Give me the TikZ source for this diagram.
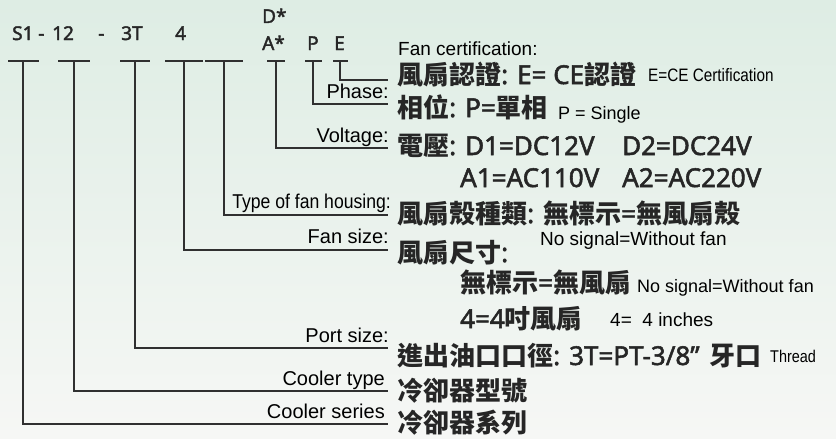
\documentclass[tikz,border=0pt]{standalone}
\usepackage{fontspec}
\setmainfont{Liberation Sans}
\newfontfamily\cjkf{Noto Sans CJK TC}
\newfontfamily\latf{Noto Sans}[FakeBold=2]
\newcommand\ck[1]{{\cjkf\bfseries #1}}
\newcommand\lt[1]{{\latf #1}}
\definecolor{linec}{RGB}{48,48,48}
\definecolor{cntext}{RGB}{38,38,38}
\definecolor{bgtop}{RGB}{222,237,228}
\definecolor{bgbot}{RGB}{246,247,245}
\tikzset{
  conn/.style={draw=linec, line width=2pt},
  lbl/.style={anchor=base east, inner sep=0pt, font=\fontsize{20}{24}\selectfont, text=black},
  eng/.style={anchor=base west, inner sep=0pt, font=\fontsize{19}{23}\selectfont, text=black},
  cnrow/.style={anchor=base west, inner sep=0pt, font=\fontsize{26}{30}\selectfont, text=cntext},
  code/.style={anchor=base west, inner sep=0pt, font=\latf\fontsize{19}{23}\selectfont, text=cntext}
}
\begin{document}
\begin{tikzpicture}[x=1pt,y=-1pt]
\useasboundingbox (0,0) rectangle (836,439);
\shade[top color=bgtop, bottom color=bgbot] (0,0) rectangle (836,439);

% code letters
\node[code] (cS1) at (12,40) {S1};
\node[code] (cd1) at (38,40) {-};
\node[code] (c12) at (52,40) {12};
\node[code] (cd2) at (98,40) {-};
\node[code] (c3T) at (121,40) {3T};
\node[code] (c4)  at (175,40) {4};
\node[code] (cD)  at (262,23) {D*};
\node[code] (cA)  at (262,50) {A*};
\node[code] (cP)  at (307,50) {P};
\node[code] (cE)  at (334,50) {E};

% end coordinates
\coordinate (eE) at (388,80);
\coordinate (eP) at (388,104);
\coordinate (eV) at (388,148);
\coordinate (eH) at (388,215);
\coordinate (eF) at (388,250);
\coordinate (ePo) at (388,348);
\coordinate (eT) at (388,391);
\coordinate (eS) at (388,424);

% T bars and stems
\foreach \n/\l/\s/\r in {t1/8/23/39, t2/58/74/90, t3/120/135/150, t4/165/184/203, t5/205/224/243, t6/267/276/285, t7/305/313/322, t8/333/340/348}{
  \coordinate (\n L) at (\l,61);
  \coordinate (\n R) at (\r,61);
  \coordinate (\n S) at (\s,61);
  \draw[conn] (\n L) -- (\n R);
}
\draw[conn] (t8S) |- (eE);
\draw[conn] (t7S) |- (eP);
\draw[conn] (t6S) |- (eV);
\draw[conn] (t5S) |- (eH);
\draw[conn] (t4S) |- (eF);
\draw[conn] (t3S) |- (ePo);
\draw[conn] (t2S) |- (eT);
\draw[conn] (t1S) |- (eS);

% English labels
\node[eng] (lFan) at (398,55) {Fan certification:};
\node[lbl] (lPh) at (389,98) {Phase:};
\node[lbl] (lVo) at (389,142) {Voltage:};
\node[lbl] (lHo) at (391,208) {\scalebox{0.88}[1]{Type of fan housing:}};
\node[lbl] (lFs) at (389,243) {Fan size:};
\node[lbl] (lPo) at (389,342) {Port size:};
\node[lbl] (lTy) at (385,385) {Cooler type};
\node[lbl] (lSe) at (385,418) {Cooler series};

% Chinese rows
\node[cnrow] (r1) at (397,84) {\ck{風扇認證}\lt{: E= CE}\ck{認證}};
\node[eng, font=\fontsize{18}{22}\selectfont] (r1e) at (648,81) {\scalebox{0.85}[1]{E=CE Certification}};
\node[cnrow] (r2) at (397,117) {\ck{相位}\lt{: P=}\ck{單相}};
\node[eng, font=\fontsize{18}{22}\selectfont, anchor=base west] (r2e) at ([xshift=10pt,yshift=-2pt]r2.base east) {P = Single};
\node[cnrow] (r3) at (397,155) {\ck{電壓}\lt{: D1=DC12V}};
\node[cnrow] (r3b) at (622,155) {\lt{D2=DC24V}};
\node[cnrow] (r4) at (460,187) {\lt{A1=AC110V}};
\node[cnrow] (r4b) at (622,187) {\lt{A2=AC220V}};
\node[cnrow] (r5) at (397,223) {\ck{風扇殼種類}\lt{: }\ck{無標示}\lt{=}\ck{無風扇殼}};
\node[cnrow] (r6) at (397,262) {\ck{風扇尺寸}\lt{:}};
\node[eng] (r6e) at (540,245) {No signal=Without fan};
\node[cnrow] (r7) at (460,292) {\ck{無標示}\lt{=}\ck{無風扇}};
\node[eng, font=\fontsize{18}{22}\selectfont] (r7e) at (637,292) {No signal=Without fan};
\node[cnrow] (r8) at (460,328) {\lt{4=4}\ck{吋風扇}};
\node[eng] (r8e) at (610,326) {4=\ \ 4 inches};
\node[cnrow] (r9) at (397,365) {\ck{進出油口口徑}\lt{: 3T=PT-3/8”}\hspace{10pt}\ck{牙口}};
\node[eng, font=\fontsize{17}{20}\selectfont] (r9e) at (770,362) {\scalebox{0.85}[1]{Thread}};
\node[cnrow] (r10) at (397,400) {\ck{冷卻器型號}};
\node[cnrow] (r11) at (397,432) {\ck{冷卻器系列}};
\end{tikzpicture}
\end{document}
